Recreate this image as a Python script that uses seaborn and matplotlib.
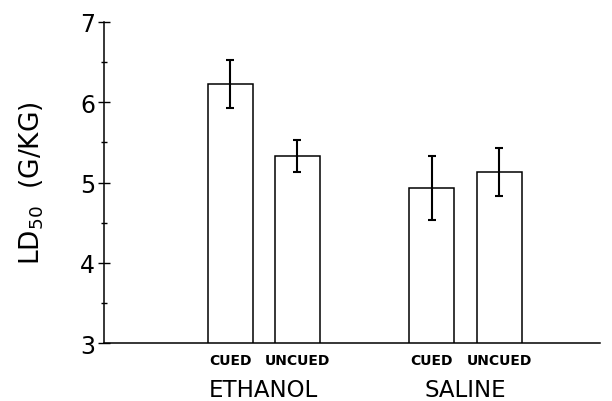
import seaborn as sns
import matplotlib.pyplot as plt
import pandas as pd
from matplotlib.ticker import MultipleLocator
from matplotlib.transforms import blended_transform_factory

# LD50 values
groups = ['ETHANOL', 'ETHANOL', 'SALINE', 'SALINE']
conditions = ['CUED', 'UNCUED', 'CUED', 'UNCUED']
ld50 = [6.23, 5.33, 4.93, 5.13]
err = [0.30, 0.20, 0.40, 0.30]
group_names = ['ETHANOL', 'SALINE']

df = pd.DataFrame({'group': groups, 'condition': conditions, 'ld50': ld50, 'err': err})

# bar slots on the x axis (gap of one slot between groups)
df['pos'] = [0, 1, 3, 4]

sns.set_style('ticks')
plt.rcParams['font.family'] = ['DejaVu Sans']
plt.rcParams['mathtext.default'] = 'regular'
for key in ['text.color', 'axes.labelcolor', 'xtick.color', 'ytick.color', 'axes.edgecolor']:
    plt.rcParams[key] = 'black'

fig = plt.figure(figsize=(6.12, 4.02), dpi=100)
ax = fig.add_axes([104 / 612, 1 - 344.3 / 402, 496 / 612, 321.5 / 402])

sns.barplot(data=df, x='pos', y='ld50', native_scale=True, width=0.67,
            color='white', edgecolor='black', linewidth=1.1, errorbar=None, ax=ax)
ax.errorbar(df['pos'], df['ld50'], yerr=df['err'], fmt='none', ecolor='black',
            elinewidth=1.5, capsize=3, capthick=1.5)

ax.set_xlim(-1.874, 5.50)
ax.set_ylim(3, 7)
ax.yaxis.set_major_locator(MultipleLocator(1))
ax.yaxis.set_minor_locator(MultipleLocator(0.5))
ax.tick_params(axis='y', which='major', direction='inout', length=8.5, width=1,
               labelsize=17, pad=2)
ax.tick_params(axis='y', which='minor', direction='inout', length=4, width=1)

ax.set_xticks(df['pos'])
ax.set_xticklabels(df['condition'], fontsize=10, fontweight='bold')
ax.tick_params(axis='x', length=0, pad=7)

sns.despine(ax=ax)
ax.spines['left'].set_linewidth(1.1)
ax.spines['bottom'].set_linewidth(1.1)

ax.set_xlabel('')
ax.set_ylabel('')
fig.text(32 / 612, 1 - 183 / 402, 'LD$_{50}$  (G/KG)', rotation=90,
         ha='center', va='center', fontsize=19)

# group names under the condition labels
trans = blended_transform_factory(ax.transData, fig.transFigure)
for name in group_names:
    xs = df.loc[df['group'] == name, 'pos']
    ax.text(xs.mean(), 1 - 391 / 402, name, transform=trans,
            ha='center', va='center', fontsize=16.5)

fig.savefig('out.png', dpi=100)
